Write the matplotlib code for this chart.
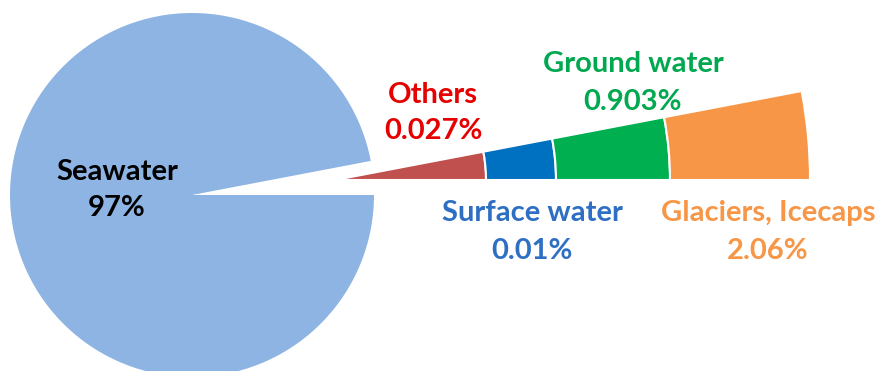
import numpy as np
import matplotlib.pyplot as plt
from matplotlib.patches import Wedge

# data (percent of all water on earth)
sea_label = "Seawater"
sea_value = 97
labels = ["Others", "Surface water", "Ground water", "Glaciers, Icecaps"]
values = [0.027, 0.01, 0.903, 2.06]
value_text = ["0.027%", "0.01%", "0.903%", "2.06%"]

# styles
sea_color = "#8EB4E3"
fan_colors = ["#C0504D", "#0070C0", "#00B050", "#F79646"]
text_colors = ["#E60000", "#2E6FC4", "#00A84F", "#F79646"]

plt.rcParams['font.family'] = ['Lato', 'DejaVu Sans']

W, H = 885, 371
fig = plt.figure(figsize=(W / 100, H / 100), dpi=100)
ax = fig.add_axes([0, 0, 1, 1])

# main pie, the missing slice is the fresh water
rest = 100 - sea_value
gap_angle = 360 * rest / 100
ax.pie([sea_value, rest], colors=[sea_color, 'none'], startangle=gap_angle,
       center=(192, H - 195), radius=182, counterclock=True, frame=True)

# exploded fan, cut in radial bands (band sizes)
apex = (335, H - 180)
band_edges = [0, 151, 221, 335, 475]
for i, c in enumerate(fan_colors):
    r_in, r_out = band_edges[i], band_edges[i + 1]
    ax.add_patch(Wedge(apex, r_out, 0, gap_angle, width=r_out - r_in,
                       facecolor=c, edgecolor='white', linewidth=1.5))

# labels
ax.text(117, H - 172, sea_label, ha='center', va='center',
        fontsize=21, fontweight='bold', color='black')
ax.text(117, H - 208, f"{sea_value}%", ha='center', va='center',
        fontsize=21, fontweight='bold', color='black')

label_pos = [(433, 95, 131), (532, 213, 251), (633, 64, 102), (768, 213, 251)]
for lab, vt, col, (x, y1, y2) in zip(labels, value_text, text_colors, label_pos):
    ax.text(x, H - y1, lab, ha='center', va='center', fontsize=21,
            fontweight='bold', color=col)
    ax.text(x, H - y2, vt, ha='center', va='center', fontsize=21,
            fontweight='bold', color=col)

ax.set_xlim(0, W)
ax.set_ylim(0, H)
ax.set_aspect('equal')
ax.axis('off')

fig.savefig("out.png", dpi=100)
